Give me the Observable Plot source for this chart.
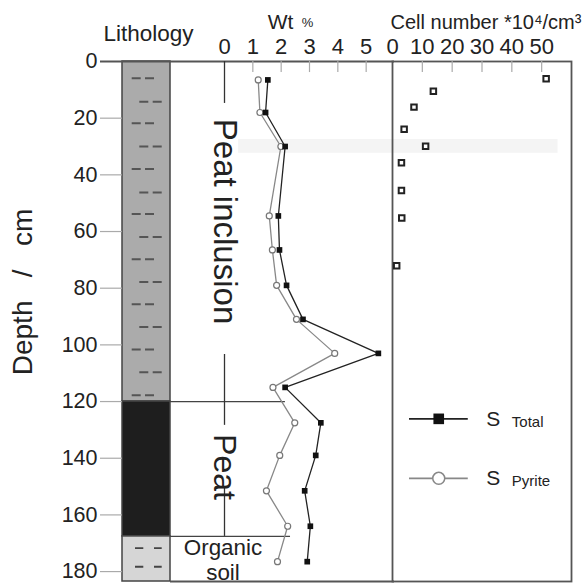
<!DOCTYPE html>
<html><head><meta charset="utf-8">
<script src="https://cdn.jsdelivr.net/npm/d3@7"></script>
<script src="https://cdn.jsdelivr.net/npm/@observablehq/plot@0.6"></script>
<style>
html,body{margin:0;padding:0;background:#fff;}
#chart{position:relative;width:582px;height:584px;overflow:hidden;background:#fff;}
#chart svg{position:absolute;left:0;top:0;background:none;}
</style></head><body><div id="chart"></div>
<script>
// ---- data ----
const sampleDepth = [6.5, 18, 30, 54.5, 66.5, 79, 91, 103, 115, 127.5, 139, 151.5, 164, 176.5];
const sTotal      = [1.53, 1.45, 2.14, 1.90, 1.94, 2.19, 2.77, 5.43, 2.14, 3.40, 3.22, 2.83, 3.03, 2.92];
const sPyrite     = [1.19, 1.25, 1.99, 1.58, 1.69, 1.84, 2.54, 3.89, 1.71, 2.48, 1.95, 1.48, 2.23, 1.87];
const cellDepth = [6.1, 10.5, 16.1, 23.9, 29.9, 35.7, 45.5, 55.2, 72.1];
const cellCount = [51.5, 13.7, 7.2, 3.9, 11.1, 3.0, 3.0, 3.1, 1.4];
const lithoNames  = ["Peat inclusion", "Peat", "Organic\nsoil"];
const lithoTop    = [0, 120, 167.6];
const lithoBottom = [120, 167.6, 183.5];
const depthTicks = [0, 20, 40, 60, 80, 100, 120, 140, 160, 180];
const wtTicks = [0, 1, 2, 3, 4, 5];
const cellTicks = [0, 10, 20, 30, 40, 50];
const dashDepthLeft  = [5.9, 21.8, 37.9, 53.8, 69.8, 85.7, 101.6, 117.8];
const dashDepthRight = [14.2, 30, 46.2, 61.9, 77.8, 93.7, 109.7];
const soilDashDepth  = [171.7, 178.3];
const legendLabels = ["Total", "Pyrite"];
const highlightBand = [27.5, 32.4];

// ---- tables built from arrays ----
const samples = sampleDepth.map((d, i) => ({depth: d, total: sTotal[i], pyrite: sPyrite[i]}));
const cells = cellDepth.map((d, i) => ({depth: d, count: cellCount[i]}));
const litho = lithoNames.map((n, i) => ({name: n, top: lithoTop[i], bottom: lithoBottom[i]}));
const lithoFill = ["#ababab", "#1e1e1e", "#d6d6d6"];

const FONT = "'Liberation Sans', Arial, Helvetica, sans-serif";
const common = {
  width: 582, height: 584, marginTop: 61, marginBottom: 3,
  style: {fontFamily: FONT, fontSize: "21px", background: "none", color: "#222", overflow: "visible"}
};
const yScale = {domain: [0, lithoBottom[2]], reverse: true};
const chart = document.getElementById("chart");

// ---- lithology column + depth axis ----
const p1 = Plot.plot({
  ...common, marginLeft: 122, marginRight: 412,
  x: {type: "band", domain: ["Lithology"], padding: 0, axis: null},
  y: yScale,
  marks: [
    Plot.barY(litho, {x: () => "Lithology", y1: "top", y2: "bottom", fill: (d, i) => lithoFill[i], stroke: "#444", strokeWidth: 1.5}),
    Plot.tickY(dashDepthLeft, {y: d => d, insetLeft: 9.7, insetRight: 15.7, stroke: "#555", strokeWidth: 2, strokeDasharray: "9 4.3"}),
    Plot.tickY(dashDepthRight, {y: d => d, insetLeft: 17.3, insetRight: 8, stroke: "#555", strokeWidth: 2, strokeDasharray: "9 4.4"}),
    Plot.tickY(soilDashDepth, {y: d => d, insetLeft: 13, insetRight: 8.3, stroke: "#444", strokeWidth: 1.8, strokeDasharray: "8.3 10.7"}),
    Plot.ruleY([0], {insetLeft: -22, stroke: "#555", strokeWidth: 1.8}),
    Plot.axisY({anchor: "left", ticks: depthTicks.slice(1), tickSize: 22, tickFormat: () => "", stroke: "#aaa", strokeWidth: 1.2, label: null}),
    Plot.axisY({anchor: "left", ticks: depthTicks, tickSize: 0, tickPadding: 25, fontSize: 21.5, fill: "#222", label: null}),
    Plot.text(["Depth   /   cm"], {frameAnchor: "left", textAnchor: "middle", dx: -99, dy: -29.5, rotate: -90, fontSize: 28, fill: "#222"}),
    Plot.text(["Lithology"], {frameAnchor: "top", textAnchor: "middle", dx: 2, dy: -21, lineAnchor: "bottom", fontSize: 22.5, fill: "#222"})
  ]
});

// ---- Wt % panel ----
const wtMin = -1.906, wtMax = 6;
const p2 = Plot.plot({
  ...common, marginLeft: 170, marginRight: 188,
  x: {domain: [wtMin, wtMax]},
  y: {...yScale, axis: null},
  marks: [
    Plot.rect([highlightBand], {x1: 0.5, x2: wtMax, y1: d => d[0], y2: d => d[1], fill: "#f4f4f4"}),
    Plot.ruleY([0, lithoBottom[2]], {stroke: "#555", strokeWidth: 1.8}),
    Plot.ruleY([lithoBottom[0]], {x1: wtMin, x2: 2.15, stroke: "#444", strokeWidth: 1.3}),
    Plot.ruleY([lithoBottom[1]], {x1: wtMin, x2: 2.33, stroke: "#444", strokeWidth: 1.3}),
    Plot.ruleX([0], {y1: lithoTop[0], y2: lithoTop[0] + 14.8, stroke: "#333", strokeWidth: 1.3}),
    Plot.ruleX([0], {y1: lithoBottom[0] - 16.6, y2: lithoBottom[0] + 8.4, stroke: "#333", strokeWidth: 1.3}),
    Plot.ruleX([0], {y1: lithoBottom[1] - 17.4, y2: lithoBottom[1], stroke: "#333", strokeWidth: 1.3}),
    Plot.ruleX(wtTicks.slice(1), {y1: 0, y2: 3.9, stroke: "#aaa", strokeWidth: 1.2}),
    Plot.axisX({anchor: "top", ticks: wtTicks, tickSize: 0, tickPadding: 8, fontSize: 22, fill: "#222", label: null}),
    Plot.text([litho[0]], {x: () => 0, y: d => (d.top + d.bottom) / 2, dy: -10, text: "name", rotate: 90, fontSize: 33, fill: "#222"}),
    Plot.text([litho[1]], {x: () => 0, y: d => (d.top + d.bottom) / 2, dy: -2, text: "name", rotate: 90, fontSize: 32, fill: "#222"}),
    Plot.text([litho[2]], {x: () => 0, y: d => (d.top + d.bottom) / 2, dx: -1.5, dy: 0.5, text: "name", fontSize: 22.4, lineHeight: 1.12, fill: "#222"}),
    Plot.line(samples, {x: "pyrite", y: "depth", stroke: "#888", strokeWidth: 1.3}),
    Plot.line(samples, {x: "total", y: "depth", stroke: "#222", strokeWidth: 1.3}),
    Plot.dot(samples, {x: "pyrite", y: "depth", r: 3, fill: "white", stroke: "#777", strokeWidth: 1.2}),
    Plot.dot(samples, {x: "total", y: "depth", symbol: "square", r: 3.2, fill: "#111"}),
    Plot.text(["Wt"], {frameAnchor: "top", textAnchor: "middle", dx: -2, dy: -33, lineAnchor: "bottom", fontSize: 21, fill: "#222"}),
    Plot.text(["%"], {frameAnchor: "top", textAnchor: "middle", dx: 25, dy: -35, lineAnchor: "bottom", fontSize: 13, fill: "#222"})
  ]
});

// ---- Cell number panel ----
const legendY = [126.1, 147.1];
const p3 = Plot.plot({
  ...common, marginLeft: 392, marginRight: 11,
  x: {domain: [0, 60]},
  y: {...yScale, axis: null},
  marks: [
    Plot.rect([highlightBand], {x1: 0, x2: 55.5, y1: d => d[0], y2: d => d[1], fill: "#f4f4f4"}),
    Plot.frame({stroke: "#555", strokeWidth: 1.8}),
    Plot.ruleX(cellTicks.slice(1), {y1: 0, y2: 3.9, stroke: "#aaa", strokeWidth: 1.2}),
    Plot.axisX({anchor: "top", ticks: cellTicks, tickSize: 0, tickPadding: 8, fontSize: 22, fill: "#222", label: null}),
    Plot.dot(cells, {x: "count", y: "depth", symbol: "square", r: 3.1, fill: "white", stroke: "#222", strokeWidth: 2}),
    // legend
    Plot.ruleY(legendLabels, {y: (d, i) => legendY[i], x1: 5.7, x2: 25.4, stroke: (d, i) => i ? "#888" : "#222", strokeWidth: 1.8}),
    Plot.dot([legendLabels[0]], {x: 15.5, y: legendY[0], symbol: "square", r: 6, fill: "#111"}),
    Plot.dot([legendLabels[1]], {x: 15.5, y: legendY[1], r: 6, fill: "white", stroke: "#888", strokeWidth: 1.5}),
    Plot.text(legendLabels, {x: 31.4, y: (d, i) => legendY[i], text: () => "S", textAnchor: "start", fontSize: 21, fill: "#222"}),
    Plot.text(legendLabels, {x: 40, y: (d, i) => legendY[i], dy: 3, textAnchor: "start", fontSize: 15, fill: "#222"}),
    Plot.text(["Cell number *10\u2074/cm\u00b3"], {frameAnchor: "top-left", dx: -2, dy: -33, textAnchor: "start", lineAnchor: "bottom", fontSize: 20, fill: "#222"})
  ]
});

for (const p of [p1, p2, p3]) chart.appendChild(p);
</script>
</body></html>
